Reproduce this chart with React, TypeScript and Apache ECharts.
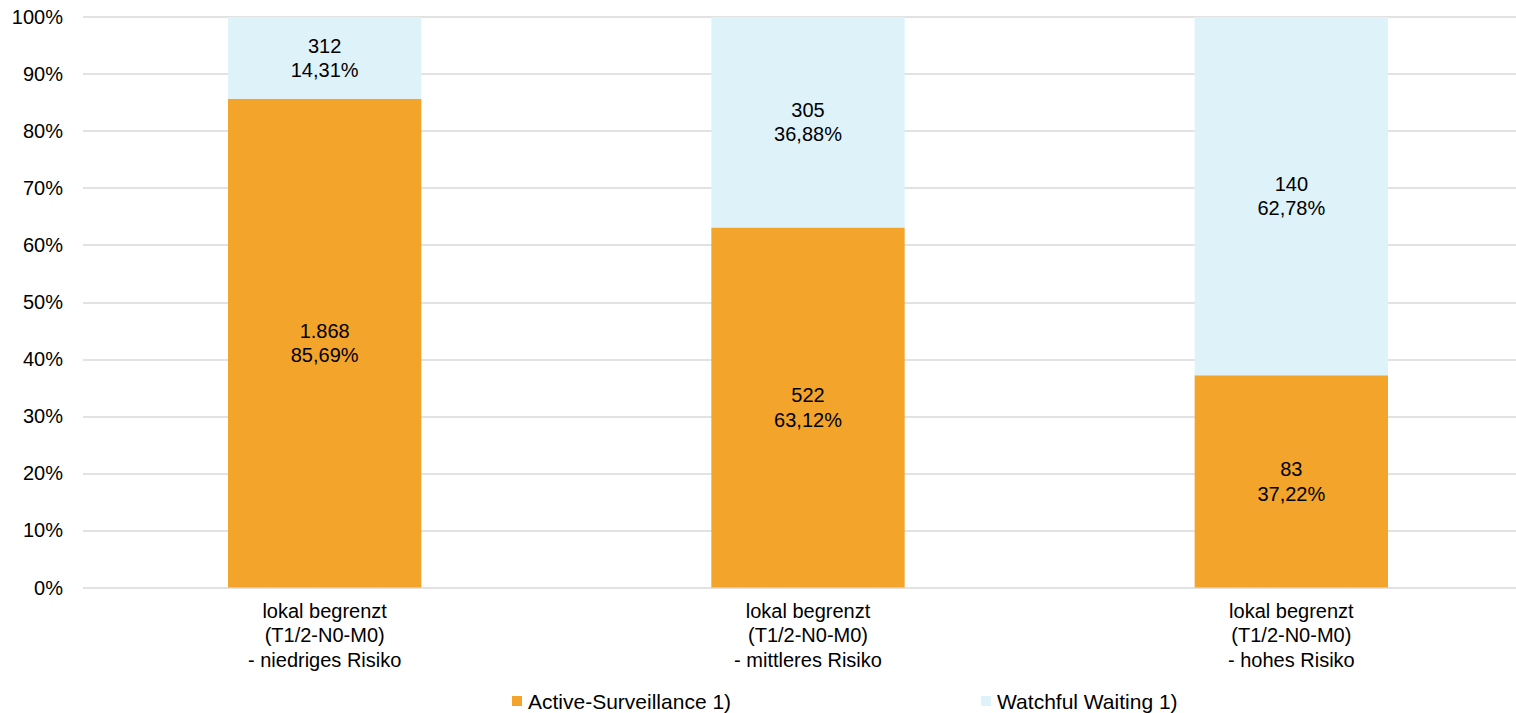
import React, { useEffect, useRef } from "react";
import * as echarts from "echarts";

const categories = [
  "lokal begrenzt\n(T1/2-N0-M0)\n- niedriges Risiko",
  "lokal begrenzt\n(T1/2-N0-M0)\n- mittleres Risiko",
  "lokal begrenzt\n(T1/2-N0-M0)\n- hohes Risiko",
];
const activeCounts = [1868, 522, 83];
const activePercents = [85.69, 63.12, 37.22];
const waitingCounts = [312, 305, 140];
const waitingPercents = [14.31, 36.88, 62.78];
const yTicks = [0, 10, 20, 30, 40, 50, 60, 70, 80, 90, 100];

const FONT = "'Liberation Sans', Arial, sans-serif";

const fmtCount = (n: number) => n.toString().replace(/\B(?=(\d{3})+(?!\d))/g, ".");
const fmtPct = (p: number) => p.toFixed(2).replace(".", ",") + "%";

export default function App() {
  const ref = useRef<HTMLDivElement>(null);
  useEffect(() => {
    if (!ref.current) return;
    const chart = echarts.init(ref.current, null, { renderer: "svg" });
    const labelStyle = (counts: number[], pcts: number[]) => ({
      show: true,
      position: "inside" as const,
      color: "#000",
      fontSize: 20,
      fontFamily: FONT,
      lineHeight: 24.5,
      formatter: (p: any) => `${fmtCount(counts[p.dataIndex])}\n${fmtPct(pcts[p.dataIndex])}`,
    });
    chart.setOption({
      animation: false,
      textStyle: { fontFamily: FONT, color: "#000" },
      grid: { left: 83, width: 1450, top: 17, height: 570.5, containLabel: false },
      legend: {
        left: 507,
        top: 685,
        padding: 5,
        itemWidth: 10,
        itemHeight: 10,
        itemGap: 250,
        icon: "rect",
        textStyle: { fontSize: 21, fontFamily: FONT, color: "#000", lineHeight: 22, padding: [0, 0, 0, 1] },
        data: ["Active-Surveillance 1)", "Watchful Waiting 1)"],
      },
      xAxis: {
        type: "category",
        data: categories,
        axisLine: { show: false },
        axisTick: { show: false },
        axisLabel: {
          color: "#000",
          fontSize: 20,
          fontFamily: FONT,
          lineHeight: 24.5,
          margin: 11,
          interval: 0,
        },
      },
      yAxis: {
        type: "value",
        min: yTicks[0],
        max: yTicks[yTicks.length - 1],
        interval: yTicks[1] - yTicks[0],
        axisLine: { show: false },
        axisTick: { show: false },
        axisLabel: {
          color: "#000",
          fontSize: 20,
          fontFamily: FONT,
          margin: 20,
          formatter: "{value}%",
        },
        splitLine: { lineStyle: { color: "#D9D9D9", width: 1.5 } },
      },
      series: [
        {
          name: "Active-Surveillance 1)",
          type: "bar",
          stack: "total",
          barCategoryGap: "60%",
          data: activePercents,
          itemStyle: { color: "#F2A42B" },
          label: labelStyle(activeCounts, activePercents),
        },
        {
          name: "Watchful Waiting 1)",
          type: "bar",
          stack: "total",
          barCategoryGap: "60%",
          data: waitingPercents,
          itemStyle: { color: "#DEF2FA" },
          label: labelStyle(waitingCounts, waitingPercents),
        },
      ],
    });
    return () => chart.dispose();
  }, []);
  return (
    <div style={{ position: "fixed", left: 0, top: 0, width: 1516, height: 713, overflow: "hidden", background: "#fff" }}>
      <div ref={ref} style={{ width: 1540, height: 713 }} />
    </div>
  );
}
